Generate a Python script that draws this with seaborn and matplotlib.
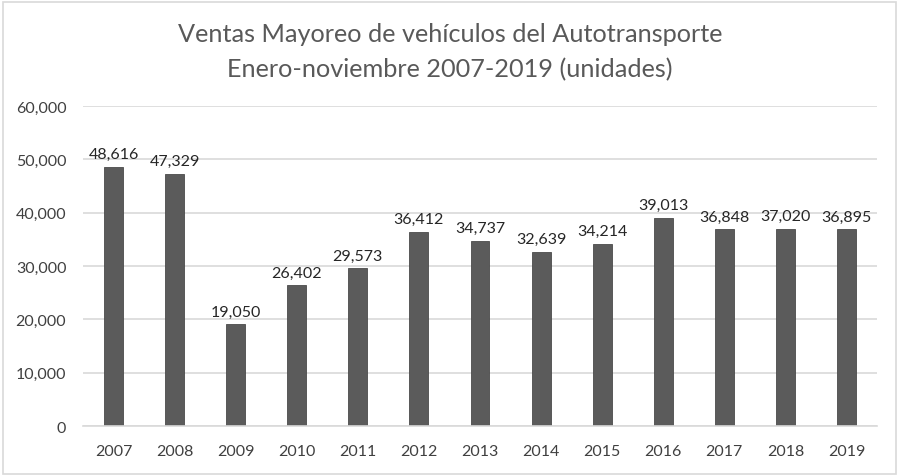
import matplotlib
matplotlib.use("Agg")
import matplotlib.pyplot as plt
import seaborn as sns
import pandas as pd
from matplotlib.patches import Rectangle
from matplotlib.ticker import FuncFormatter

years = ["2007", "2008", "2009", "2010", "2011", "2012", "2013",
         "2014", "2015", "2016", "2017", "2018", "2019"]
units = [48616, 47329, 19050, 26402, 29573, 36412, 34737,
         32639, 34214, 39013, 36848, 37020, 36895]
title_lines = ["Ventas Mayoreo de vehículos del Autotransporte",
               "Enero-noviembre 2007-2019 (unidades)"]

df = pd.DataFrame({"year": years, "units": units})

sns.set_theme(style="white")
plt.rcParams["font.family"] = ["Lato", "DejaVu Sans"]

fig = plt.figure(figsize=(9, 4.77), dpi=100)
ax = fig.add_axes([0.0922, 0.1048, 0.8822, 0.6709])

sns.barplot(data=df, x="year", y="units", color="#5b5b5b", width=0.31,
            edgecolor="#4a4a4a", linewidth=0.6, saturation=1, ax=ax)

ax.set_ylim(0, 60000)
ax.set_xlim(-0.5, len(years) - 0.5)
ax.set_yticks(range(0, 60001, 10000))
ax.yaxis.set_major_formatter(FuncFormatter(lambda v, p: f"{int(v):,}"))
ax.grid(axis="y", color="#d9d9d9", linewidth=1.2)
ax.set_axisbelow(True)
for s in ["top", "right", "left"]:
    ax.spines[s].set_visible(False)
ax.spines["bottom"].set_color("#d9d9d9")
ax.spines["bottom"].set_linewidth(1.2)
ax.tick_params(axis="both", length=0, labelsize=11.5, colors="#404040")
ax.tick_params(axis="x", pad=13)
ax.tick_params(axis="y", pad=12)
ax.set_xlabel("")
ax.set_ylabel("")

ax.bar_label(ax.containers[0], labels=[f"{v:,}" for v in units],
             padding=4, fontsize=11.5, color="#262626")

fig.text(0.5, 0.927, title_lines[0], ha="center", va="center",
         fontsize=18.2, color="#595959")
fig.text(0.5, 0.854, title_lines[1], ha="center", va="center",
         fontsize=18.2, color="#595959")

fig.patches.append(Rectangle((0.003, 0.004), 0.992, 0.99, transform=fig.transFigure,
                             fill=False, edgecolor="#d9d9d9", linewidth=1.2))

fig.savefig("out.png", dpi=100)
